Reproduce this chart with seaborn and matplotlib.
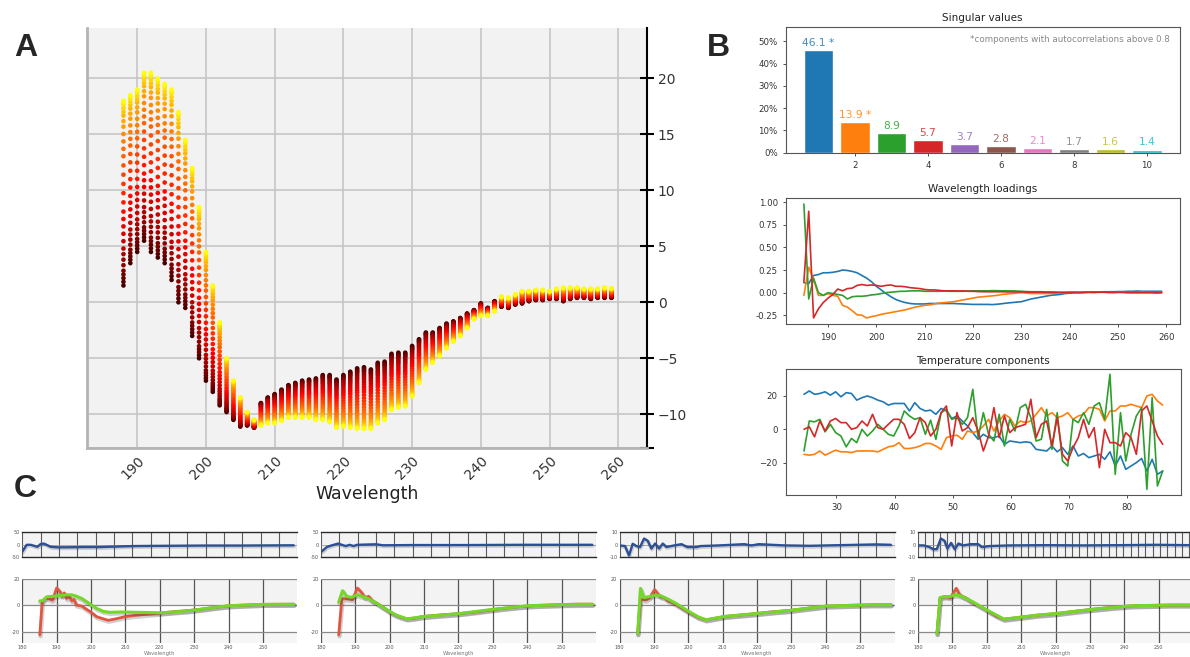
import numpy as np
import pandas as pd
import seaborn as sns
import matplotlib.pyplot as plt
import matplotlib.ticker as mticker
from matplotlib import patheffects as pe

# ---------------- Panel A: CD spectra at many temperatures ----------------
a_wavelength = list(range(188, 260))
# signal of the folded (low temperature, yellow) state per wavelength
a_folded = [18.0, 18.5, 19.0, 20.5, 20.5, 20.0, 19.5, 19.0, 17.0, 14.5, 12.0, 8.5,
            4.5, 1.5, -1.8, -5.0, -7.0, -8.5, -9.8, -10.5, -11.0, -10.8, -10.8, -10.6,
            -10.3, -10.3, -10.3, -10.3, -10.5, -10.5, -10.7, -11.2, -11.1, -11.2, -11.3, -11.3,
            -11.3, -10.8, -10.5, -9.6, -9.4, -9.3, -8.4, -7.2, -6.0, -5.4, -4.8, -4.1,
            -3.5, -3.0, -2.3, -1.5, -1.2, -1.2, -0.8, 0.5, 0.4, 0.7, 1.0, 1.0,
            1.1, 1.1, 1.0, 1.2, 1.3, 1.3, 1.3, 1.2, 1.2, 1.2, 1.3, 1.25]
# signal of the unfolded (high temperature, dark red) state per wavelength
a_unfolded = [1.5, 3.5, 4.5, 5.5, 4.5, 4.0, 3.5, 2.0, 0.0, -0.5, -3.0, -5.0,
              -7.0, -8.0, -9.2, -9.8, -10.5, -11.1, -11.0, -11.2, -9.0, -8.5, -8.2, -7.8,
              -7.4, -7.2, -7.0, -6.9, -6.8, -6.5, -6.5, -6.9, -6.5, -6.2, -5.9, -5.8,
              -6.0, -5.4, -5.3, -4.6, -4.5, -4.5, -3.9, -3.3, -2.7, -2.7, -2.3, -1.9,
              -1.7, -1.4, -1.0, -0.7, -0.1, -0.5, 0.1, -0.4, -0.5, -0.2, -0.1, 0.1,
              0.2, 0.2, 0.3, 0.3, 0.1, 0.3, 0.4, 0.4, 0.3, 0.4, 0.4, 0.4]
# unfolded fraction for each temperature step
a_melt_fraction = [0.0, 0.01, 0.02, 0.04, 0.06, 0.08, 0.11, 0.14, 0.18, 0.22, 0.26,
                   0.30, 0.35, 0.40, 0.45, 0.50, 0.55, 0.60, 0.64, 0.68, 0.72, 0.76,
                   0.80, 0.83, 0.86, 0.89, 0.92, 0.94, 0.96, 0.98, 1.0]

# ---------------- Panel B ----------------
sv_component = [1, 2, 3, 4, 5, 6, 7, 8, 9, 10]
sv_percent = [46.1, 13.9, 8.9, 5.7, 3.7, 2.8, 2.1, 1.7, 1.6, 1.4]
sv_autocorr = [True, True, False, False, False, False, False, False, False, False]

load_wavelength = list(range(185, 260))
load_c1 = [0.11, 0.10, 0.19, 0.20, 0.22, 0.22, 0.225, 0.235, 0.25, 0.245, 0.235, 0.22, 0.19,
           0.16, 0.12, 0.07, 0.03, -0.01, -0.045, -0.075, -0.095, -0.11, -0.12, -0.125, -0.125,
           -0.125, -0.12, -0.12, -0.12, -0.12, -0.12, -0.12, -0.123, -0.125, -0.128, -0.13, -0.13,
           -0.13, -0.13, -0.132, -0.128, -0.122, -0.115, -0.11, -0.105, -0.1, -0.085, -0.07, -0.06,
           -0.05, -0.04, -0.03, -0.025, -0.02, -0.01, -0.005, 0.0, 0.0, 0.005, 0.005, 0.005,
           0.008, 0.01, 0.01, 0.01, 0.012, 0.012, 0.015, 0.015, 0.018, 0.015, 0.015, 0.015,
           0.015, 0.015]
load_c2 = [-0.03, 0.28, 0.15, -0.03, -0.03, -0.01, -0.03, -0.04, -0.14, -0.16, -0.20, -0.245,
           -0.25, -0.28, -0.265, -0.255, -0.24, -0.23, -0.22, -0.21, -0.2, -0.19, -0.175, -0.16,
           -0.15, -0.14, -0.135, -0.125, -0.115, -0.11, -0.105, -0.1, -0.09, -0.08, -0.07, -0.06,
           -0.05, -0.045, -0.04, -0.035, -0.03, -0.02, -0.015, -0.01, -0.005, 0.0, -0.005, -0.01,
           -0.01, -0.01, -0.01, -0.01, -0.005, 0.0, 0.0, 0.005, 0.005, 0.0, 0.0, 0.005,
           0.0, 0.005, 0.005, 0.0, 0.0, 0.005, 0.005, 0.0, 0.0, 0.0, 0.005, 0.0,
           0.0, -0.005, 0.0]
load_c3 = [0.98, -0.07, 0.16, 0.0, -0.03, 0.0, -0.01, -0.02, -0.03, -0.07, -0.045, -0.04,
           -0.04, -0.035, -0.025, -0.02, -0.01, 0.0, 0.005, 0.01, 0.015, 0.015, 0.02, 0.02,
           0.02, 0.015, 0.015, 0.015, 0.015, 0.018, 0.015, 0.015, 0.015, 0.015, 0.018, 0.02,
           0.02, 0.02, 0.02, 0.022, 0.022, 0.02, 0.02, 0.02, 0.018, 0.015, 0.012, 0.01,
           0.01, 0.01, 0.008, 0.008, 0.006, 0.005, 0.005, 0.005, 0.005, 0.005, 0.005, 0.005,
           0.005, 0.005, 0.005, 0.005, 0.005, 0.005, 0.005, 0.005, 0.005, 0.005, 0.005, 0.005,
           0.005, 0.005, 0.005]
load_c4 = [0.12, 0.90, -0.28, -0.18, -0.11, -0.06, -0.02, 0.04, 0.02, 0.045, 0.05, 0.08,
           0.09, 0.08, 0.085, 0.08, 0.07, 0.08, 0.085, 0.07, 0.07, 0.065, 0.055, 0.05,
           0.045, 0.035, 0.03, 0.03, 0.025, 0.02, 0.02, 0.02, 0.018, 0.02, 0.015, 0.015,
           0.012, 0.01, 0.01, 0.01, 0.01, 0.01, 0.008, 0.008, 0.008, 0.008, 0.006, 0.005,
           0.005, 0.005, 0.004, 0.003, 0.002, 0.0, 0.0, 0.0, 0.0, 0.0, 0.002, 0.003,
           0.004, 0.004, 0.005, 0.004, 0.003, 0.003, 0.002, 0.0, 0.0, 0.0, -0.002, 0.0,
           0.0, -0.002, 0.0]

temp_range = (24.4, 86.2)
temp_c1 = [21, 23, 21, 21.5, 22.5, 20.5, 22.5, 19.5, 22, 21.5, 17.5, 19, 20, 19, 17.5, 16.5,
           14.5, 15.5, 15.5, 15.5, 11, 16, 12.5, 11, 11.5, 9, 12.5, 11, 6.5, 8, 5, 2, -2,
           -6, -3, -5, -5, -4, -9, -7, -7.5, -8, -7.5, -8, -12, -12.5, -13, -10, -13.5, -11,
           -15, -10, -16, -14.5, -17, -16, -15, -18, -13.5, -22, -16, -24, -22, -20, -17.5,
           -25, -18, -27, -25]
temp_c2 = [-15, -15.5, -15, -13, -15.5, -14, -12.5, -13.5, -13.5, -14, -13, -13, -13, -13,
           -13.5, -12, -10.5, -10, -8, -11.5, -11.5, -11, -10, -8.5, -8.5, -10, -12, -5, -4,
           -3.5, -6, -1, -2, -1, 2, 6, -1, 5, 9, 7, 2, 5, 4, 5, 9, 13, 8, 10, 7, 8, 10, 6,
           8, 9, 13, 13, 12, 5, 11, 11, 14, 14, 15, 14, 13, 20, 21, 17, 14.5]
temp_c3 = [-13, 5, 4.5, 6, -1.5, 3, -2, -4, -10.5, -5.5, -8, 0, -4, -1, 3, 0, -3, -4, 2, 11,
           8, 6, 7, -3, 5.5, -6, 10, 12, 6, 7, 3, 7, 24, -5, 10, -3, -7, 9, -10, 6, -1, 13,
           15, 7, -7, -6, 12, -12, 10, -19, -22, 6, 4, 10, 3, 14, 16, 6, 33, -27, 10, -19,
           -3, 8, 13, -36, 19, -34, -25]
temp_c4 = [0, 1.5, -4.5, 5, -1, 5, 6.5, 4, 4, 0, 1, 5, 2, 9, 1, 0, 3, 6, 6, 3, -5.5, -2, 7,
           4, -4, 0, 10, 14, -10, 10, -1, 1, 7, -1, -13, -4, 13, -5, 8, -2, 1, 2, 3, 18, -5,
           3, 5, -10, 7, -15, -19, -11, -5, 6, -5, 1, -23, 0, -8, -8, -10, -2, -5, -15, 11,
           14, 5, -4, -9]

# ---------------- Panel C: four fits (residual on top, data + fit below) ----------------
c_resid_x = [
    [0, 1.2, 2.3, 3.2, 4.1, 5.0, 5.9, 7.7, 9.5, 12.2, 16.7, 21.2, 30.3, 39, 50, 60, 74],
    [0.2, 1.6, 2.8, 4.7, 5.7, 6.8, 7.8, 8.9, 9.9, 15, 17, 25, 40, 55, 74],
    [0, 1.5, 2.6, 3.6, 4.6, 5.6, 6.7, 7.7, 8.7, 9.7, 10.8, 11.8, 12.8, 14.9, 16.9, 18.5,
     21, 22.1, 27.2, 34, 36, 38, 45, 52, 60, 70, 74],
    [0, 1.5, 3.1, 4.1, 5.1, 6.2, 7.2, 8.0, 9.0, 10.0, 11.0, 12.3, 14.4, 16.4, 17.4, 19.5,
     25, 35, 45, 55, 65, 74],
]
c_resid_y = [
    [-27, 0, 0, -4, -8, 3, 5, -8, -10, -10, -9, -9, -5, -4, -3, -3, -2],
    [-27, -9, -3, 5, 0, -5, 0, -5, 0, 2, -2, -1, -1, 0, 0],
    [-0.5, -1, -8.5, 0.8, -1, -1.8, 5, 3.2, -3, 1, -3, 1, -1.8, -0.5, 0.5, -1.8, -1.8, -1,
     -0.5, 0.5, -0.5, 0.5, -0.5, -0.8, -0.3, 0.3, 0],
    [-0.5, -0.5, -1.8, -3.5, -3.5, 5, 3.2, -3, 1.5, -3.5, 1, -0.5, 0.5, 0.5, -1.8, -1,
     -0.5, -0.3, -0.5, -0.3, 0, -0.3],
]
c_resid_lim = [50, 50, 10, 10]
c_resid_grid_step = [5, 5, 5, 2]

c_data_x = [
    [185.1, 185.8, 186.6, 187.6, 188.8, 190.0, 191.0, 191.6, 192.2, 192.9, 193.6, 194.4,
     195.0, 195.8, 197.3, 198.7, 200.2, 201.6, 203.1, 205.0, 207.0, 209.9, 212.3, 216.2,
     220.0, 224.0, 227.8, 231.7, 236, 240, 245, 250, 255, 259],
    [185.2, 186.1, 187.8, 189.2, 190.6, 191.7, 192.8, 193.9, 195.0, 196.7, 198.4, 200.6,
     202.8, 205.0, 207.3, 209.5, 215.1, 220.6, 226.2, 231.8, 237.3, 242.9, 248.5, 254.0, 259.0],
    [185.3, 186.1, 187.7, 188.8, 190.2, 191.2, 192.0, 193.1, 194.2, 195.9, 197.5, 199.7,
     203.0, 205.2, 207.4, 210.7, 218.3, 223.8, 229.3, 234.8, 240.2, 245.7, 253.4, 259.0],
    [185.5, 186.4, 188.0, 189.4, 191.1, 192.0, 193.1, 194.2, 195.3, 197.3, 199.5, 202.8,
     205.0, 208.3, 214.8, 220.3, 225.8, 231.3, 236.7, 242.2, 247.7, 253.2, 259.0],
]
c_data_y = [
    [-22.5, 2.8, 5.3, 5.3, 4.0, 13.4, 10.4, 7.0, 9.6, 5.3, 7.0, 3.5, 4.5, 0.2, -0.5, -3.0,
     -5.6, -8.6, -9.9, -11.4, -10.4, -8.6, -7.8, -6.8, -6.0, -4.8, -4.0, -3.0, -1.5, -0.3,
     0.3, 0.8, 0.9, 1.0],
    [-22.6, 5.1, 5.0, 4.4, 13.3, 10.3, 6.2, 6.9, 3.6, 1.0, -2.0, -5.9, -8.5, -10.3, -9.7,
     -8.5, -7.2, -6.2, -4.6, -2.6, -1.0, 0.0, 0.5, 1.0, 1.0],
    [-21.6, 4.7, 4.2, 6.0, 12.1, 8.7, 6.6, 6.0, 3.4, 1.6, -1.0, -4.5, -9.2, -11.0, -10.0,
     -8.4, -6.6, -5.0, -3.9, -2.1, -0.5, 0.0, 0.5, 0.5],
    [-21.5, 5.9, 6.7, 5.9, 13.1, 8.5, 6.7, 5.4, 3.3, 0.3, -2.8, -8.2, -10.5, -9.5, -7.4,
     -6.2, -4.4, -2.8, -1.3, -0.3, 0.0, 0.3, 0.3],
]
c_fit_x = [
    [185.1, 185.9, 187.1, 189.0, 191.0, 192.9, 194.4, 195.8, 197.3, 198.7, 200.2, 201.6,
     203.6, 205.5, 208.4, 214.2, 220.0, 224.0, 227.8, 231.7, 236, 240, 245, 250, 255, 259],
    [185.2, 186.3, 187.5, 188.9, 190.6, 192.2, 193.9, 196.1, 198.4, 201.7, 205.0, 210.0,
     220.0, 230.0, 240.0, 250.0, 259.0],
    [185.3, 186.1, 187.1, 188.8, 190.4, 192.0, 194.2, 196.4, 199.7, 203.0, 205.2, 210.7,
     218.3, 229.3, 240.2, 253.4, 259.0],
    [185.5, 186.4, 187.4, 189.1, 190.7, 192.4, 194.0, 196.2, 199.5, 205.0, 208.3, 214.8,
     220.3, 231.3, 242.2, 253.2, 259.0],
]
c_fit_y = [
    [3.5, 3.5, 6.6, 7.0, 7.6, 8.1, 8.1, 7.0, 5.3, 2.8, 0.2, -2.3, -4.6, -5.3, -5.0, -5.3,
     -5.6, -5.0, -4.3, -3.0, -1.5, -0.3, 0.3, 0.8, 0.8, 0.8],
    [2.6, 11.3, 6.9, 6.2, 8.2, 6.7, 5.1, 1.8, -2.0, -7.2, -10.3, -8.5, -6.3, -3.0, -0.3, 0.6, 0.8],
    [-21.6, 13.0, 6.0, 6.8, 7.9, 7.4, 4.7, 1.6, -3.9, -8.9, -11.0, -8.4, -6.6, -3.9, -0.5, 0.5, 0.5],
    [-21.5, 6.0, 6.7, 6.7, 8.0, 7.4, 5.4, 2.3, -2.8, -10.5, -9.5, -7.4, -6.2, -2.8, -0.3, 0.3, 0.3],
]
c_ticks = [180, 190, 200, 210, 220, 230, 240, 250]

# ---------------- Figure ----------------
sns.set_theme(style='white')
plt.rcParams['font.family'] = ['DejaVu Sans']
plt.rcParams['axes.unicode_minus'] = True

W, H = 1190, 657
fig = plt.figure(figsize=(W / 100, H / 100), dpi=100)
fig.patch.set_facecolor('white')


def px_axes(left, top, right, bottom):
    # place axes using pixel box of the reference image
    return fig.add_axes([left / W, 1 - bottom / H, (right - left) / W, (bottom - top) / H])


# ----- A -----
rows = []
for wl, f, u in zip(a_wavelength, a_folded, a_unfolded):
    for lvl, frac in enumerate(a_melt_fraction):
        rows.append({'wavelength': wl, 'signal': f + (u - f) * frac, 'level': lvl})
df_a = pd.DataFrame(rows).sort_values('level', ascending=False)
n_lvl = len(a_melt_fraction)
hot = plt.get_cmap('hot')
pal_a = {i: hot(0.75 - 0.66 * i / (n_lvl - 1)) for i in range(n_lvl)}

axA = px_axes(87.3, 28, 646.7, 448.3)
sns.scatterplot(data=df_a, x='wavelength', y='signal', hue='level', palette=pal_a,
                s=11, linewidth=0, legend=False, ax=axA)
axA.set_facecolor('#f2f2f2')
axA.set_xlim(182.74, 264.13)
axA.set_ylim(-13.04, 24.5)
axA.set_xticks(range(190, 261, 10))
axA.yaxis.tick_right()
axA.set_yticks([-13.04, -10, -5, 0, 5, 10, 15, 20],
               ['', '\u221210', '\u22125', '0', '5', '10', '15', '20'])
axA.tick_params(axis='y', direction='inout', length=10, width=1.5, color='black',
                labelsize=10, pad=3, labelcolor='#333333', right=True, left=False)
axA.tick_params(axis='x', length=0, labelsize=10, pad=4, labelcolor='#333333')
plt.setp(axA.get_xticklabels(), rotation=45, ha='right', rotation_mode='anchor')
axA.grid(True, color='#c6c6c6', lw=1.2)
axA.set_axisbelow(True)
axA.set_xlabel('Wavelength', fontsize=12.5, color='#222222', labelpad=2)
axA.set_ylabel('')
axA.spines['top'].set_visible(False)
for side in ['left', 'bottom']:
    axA.spines[side].set_color('#b4b4b4')
    axA.spines[side].set_linewidth(2)
axA.spines['right'].set_color('black')
axA.spines['right'].set_linewidth(1.5)


def style_b(ax, title):
    ax.set_title(title, fontsize=7.5, color='#222222', pad=4)
    ax.tick_params(labelsize=6.2, length=2.5, width=0.6, colors='#333333',
                   bottom=True, left=True)
    for sp in ax.spines.values():
        sp.set_color('#555555')
        sp.set_linewidth(0.8)
    ax.set_xlabel('')
    ax.set_ylabel('')


tab = sns.color_palette('tab10', 10)

# ----- B1 -----
axB1 = px_axes(786, 26.7, 1179.5, 152.7)
sns.barplot(x=sv_component, y=sv_percent, hue=sv_component,
            palette={c: tab[i] for i, c in enumerate(sv_component)},
            native_scale=True, legend=False, saturation=1, width=0.8,
            errorbar=None, ax=axB1)
for i, (c, v, star) in enumerate(zip(sv_component, sv_percent, sv_autocorr)):
    axB1.text(c, v + 1.0, f'{v:.1f}' + (' *' if star else ''), ha='center', va='bottom',
              fontsize=7.7, color=tab[i], alpha=0.85)
axB1.text(0.975, 0.90, '*components with autocorrelations above 0.8', transform=axB1.transAxes,
          ha='right', va='center', fontsize=6.3, color='#888888')
axB1.set_xlim(0.11, 10.89)
axB1.set_ylim(0, 56.6)
axB1.set_xticks([2, 4, 6, 8, 10])
axB1.set_yticks([0, 10, 20, 30, 40, 50])
axB1.yaxis.set_major_formatter(mticker.PercentFormatter(decimals=0))
style_b(axB1, 'Singular values')

# ----- B2 -----
axB2 = px_axes(786, 197.7, 1179.5, 324.3)
for i, series in enumerate([load_c1, load_c2, load_c3, load_c4]):
    sns.lineplot(x=load_wavelength, y=series, color=tab[i], lw=1.2, ax=axB2)
axB2.set_xlim(181.3, 262.7)
axB2.set_ylim(-0.35, 1.05)
axB2.set_xticks(range(190, 261, 10))
axB2.set_yticks([-0.25, 0, 0.25, 0.5, 0.75, 1.0])
axB2.yaxis.set_major_formatter(mticker.FormatStrFormatter('%.2f'))
style_b(axB2, 'Wavelength loadings')

# ----- B3 -----
axB3 = px_axes(786, 369.3, 1180.7, 495)
temps = np.linspace(temp_range[0], temp_range[1], len(temp_c1))
for i, series in enumerate([temp_c1, temp_c2, temp_c3, temp_c4]):
    sns.lineplot(x=temps, y=series, color=tab[i], lw=1.2, ax=axB3)
axB3.set_xlim(21.3, 89.3)
axB3.set_ylim(-39.4, 36)
axB3.set_xticks([30, 40, 50, 60, 70, 80])
axB3.set_yticks([-20, 0, 20])
style_b(axB3, 'Temperature components')

# ----- C -----
shadow = [pe.SimpleLineShadow(offset=(0.5, -1.0), shadow_color='#303030', alpha=0.22,
                              linewidth=3.2), pe.Normal()]
shadow_thin = [pe.SimpleLineShadow(offset=(0.4, -0.8), shadow_color='#303030', alpha=0.2,
                                   linewidth=2.6), pe.Normal()]
c_left = [22.3, 320.9, 619.5, 918.1]
for k, left in enumerate(c_left):
    # residual panel
    axr = px_axes(left, 532.3, left + 275, 557.3)
    sns.lineplot(x=c_resid_x[k], y=c_resid_y[k], color='#2d4f93', lw=1.7, ax=axr,
                 path_effects=shadow_thin)
    lim = c_resid_lim[k]
    axr.set_facecolor('#f3f3f3')
    axr.set_xlim(0, 75)
    axr.set_ylim(-lim, lim)
    axr.set_xticks(range(0, 76, c_resid_grid_step[k]))
    axr.set_yticks([-lim, 0, lim], [f'-{lim}', '0', f'{lim}'])
    axr.grid(True, axis='x', color='#5a5a5a', lw=0.8)
    axr.grid(True, axis='y', color='#9a9a9a', lw=0.6)
    axr.set_axisbelow(True)
    axr.tick_params(axis='x', labelbottom=False, length=0)
    axr.tick_params(axis='y', labelsize=3.6, length=0, pad=1.5, labelcolor='#555555')
    for side in ['left', 'right']:
        axr.spines[side].set_visible(False)
    for side in ['top', 'bottom']:
        axr.spines[side].set_color('#2a2a2a')
        axr.spines[side].set_linewidth(1.0)

    # data and fit panel
    axd = px_axes(left, 579.3, left + 275, 643.3)
    axd.set_facecolor('white')
    axd.axhspan(0, 20, color='#f3f3f3', zorder=0, lw=0)
    axd.axhspan(-29, -20, color='#f6f6f6', zorder=0, lw=0)
    sns.lineplot(x=c_data_x[k], y=c_data_y[k], color='#e2553f', lw=2.0, ax=axd,
                 path_effects=shadow)
    sns.lineplot(x=c_fit_x[k], y=c_fit_y[k], color='#74d82b', lw=2.2, ax=axd,
                 path_effects=shadow)
    axd.set_xlim(180, 260)
    axd.set_ylim(-29, 20)
    axd.set_xticks(c_ticks)
    axd.set_yticks([-20, 0, 20], ['-20', '0', '20'])
    axd.grid(True, axis='x', color='#555555', lw=0.9)
    axd.grid(True, axis='y', color='#8a8a8a', lw=0.9)
    axd.set_axisbelow(True)
    axd.tick_params(axis='y', labelsize=3.6, length=0, pad=1.5, labelcolor='#555555')
    axd.tick_params(axis='x', labelsize=3.6, length=0, pad=1.0, labelcolor='#555555')
    for sp in axd.spines.values():
        sp.set_visible(False)
    axd.set_xlabel('Wavelength', fontsize=3.8, color='#777777', labelpad=0.8)
    axd.set_ylabel('')

# panel letters
for letter, x, y in [('A', 25.7, 48.3), ('B', 718, 48), ('C', 25, 489.3)]:
    fig.text(x / W, 1 - y / H, letter, ha='center', va='center', fontsize=23,
             fontweight='bold', family=['Liberation Sans', 'DejaVu Sans'])

fig.savefig('out.png', dpi=100)
